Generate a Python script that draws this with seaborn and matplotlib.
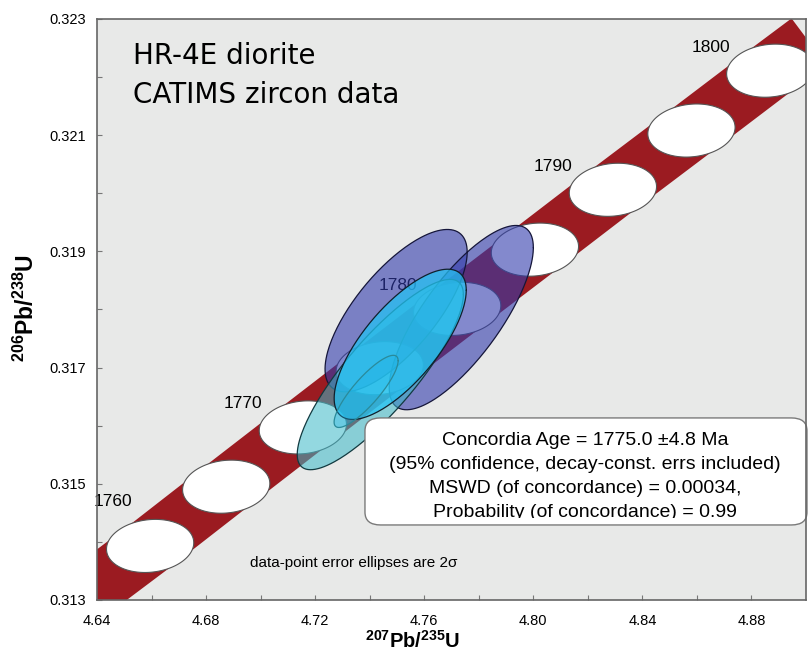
import numpy as np
import matplotlib
matplotlib.use("Agg")
import matplotlib.pyplot as plt
import seaborn as sns
from matplotlib.patches import FancyBboxPatch, Rectangle
from matplotlib.ticker import FixedLocator, FormatStrFormatter

sns.set_style("ticks")
plt.rcParams['font.family'] = ['Liberation Sans', 'DejaVu Sans']
plt.rcParams['text.color'] = 'black'
plt.rcParams['mathtext.fontset'] = 'custom'
plt.rcParams['mathtext.rm'] = 'Liberation Sans'
plt.rcParams['mathtext.bf'] = 'Liberation Sans:bold'

# concordia curve (207Pb/235U, 206Pb/238U) read at 5 Ma steps
conc_age = [1750, 1755, 1760, 1765, 1770, 1775, 1780, 1785, 1790, 1795, 1800, 1805, 1810]
conc_x = [4.6040, 4.6317, 4.6595, 4.6874, 4.7155, 4.7437, 4.7721, 4.8006,
          4.8292, 4.8580, 4.8869, 4.9160, 4.9452]
conc_y = [0.31196, 0.31295, 0.31393, 0.31495, 0.31597, 0.31699, 0.31801, 0.31903,
          0.32006, 0.32108, 0.32211, 0.32313, 0.32416]
marker_ages = [1760, 1765, 1770, 1775, 1780, 1785, 1790, 1795, 1800]
label_ages = [1760, 1770, 1780, 1790, 1800]

# age-marker ellipse size (decay constant errors)
mk_ex, mk_ey, mk_rho = 0.0160, 0.000457, 0.12

# data-point error ellipses (2 sigma): centre, half-extent x/y, error correlation
pt_x = [4.7497, 4.7736, 4.7439, 4.7512, 4.7387]
pt_y = [0.31798, 0.31786, 0.31688, 0.31740, 0.31659]
pt_ex = [0.02606, 0.02642, 0.03046, 0.02422, 0.01174]
pt_ey = [0.001397, 0.001586, 0.001638, 0.001293, 0.000621]
pt_rho = [0.72, 0.76, 0.84, 0.72, 0.85]

xticks = [4.64, 4.68, 4.72, 4.76, 4.80, 4.84, 4.88]
xminor = [4.66, 4.70, 4.74, 4.78, 4.82, 4.86]
yticks = [0.313, 0.315, 0.317, 0.319, 0.321, 0.323]
yminor = [0.314, 0.316, 0.318, 0.320, 0.322]

box_lines = ["Concordia Age = 1775.0 \u00b14.8 Ma",
             "(95% confidence, decay-const. errs included)",
             "MSWD (of concordance) = 0.00034,",
             "Probability (of concordance) = 0.99"]


def ellipse_xy(cx, cy, ex, ey, rho, n=240):
    t = np.linspace(0, 2 * np.pi, n)
    x = cx + ex * np.cos(t)
    y = cy + ey * (rho * np.cos(t) + np.sqrt(1 - rho ** 2) * np.sin(t))
    return x, y


fig = plt.figure(figsize=(8.08, 6.52), dpi=100)
ax = fig.add_axes([0.120, 0.0798, 0.8775, 0.8911])
ax.set_facecolor('#e8e9e8')

# concordia band
sns.lineplot(x=conc_x, y=conc_y, sort=False, estimator=None, ax=ax,
             color='#9b1b21', lw=42, solid_capstyle='butt', zorder=1)

# age markers
for age in marker_ages:
    i = conc_age.index(age)
    ex, ey = ellipse_xy(conc_x[i], conc_y[i], mk_ex, mk_ey, mk_rho)
    ax.fill(ex, ey, facecolor='white', edgecolor='#555555', lw=0.8, zorder=2)

label_off = {1760: (-27, 32)}
for age in label_ages:
    i = conc_age.index(age)
    ax.annotate(str(age), (conc_x[i], conc_y[i]), xytext=label_off.get(age, (-43, 17)),
                textcoords='offset points', ha='center', va='center',
                fontsize=12.5, color='black', zorder=2.5)

# data ellipses
fills = [('#313bac', 0.6, '#15163a', 3.0),
         ('#313bac', 0.6, '#15163a', 3.0),
         ('#3ab8c8', 0.55, '#123a40', 4.0),
         ('#22c4f4', 0.72, '#10202c', 4.1),
         ('#1eb4e6', 0.35, '#2a8a9a', 4.2)]
for i in range(len(pt_x)):
    fc, a, ec, z = fills[i]
    ex, ey = ellipse_xy(pt_x[i], pt_y[i], pt_ex[i], pt_ey[i], pt_rho[i])
    ax.fill(ex, ey, facecolor=fc, alpha=a, edgecolor='none', zorder=z)
    ax.plot(ex, ey, color=ec, lw=0.9, zorder=z + 0.01)

# results box
box = FancyBboxPatch((0.378, 0.1291), 0.6234, 0.1842, transform=ax.transAxes,
                     boxstyle='round,pad=0,rounding_size=0.022', facecolor='white',
                     edgecolor='#7a7a7a', lw=1.0, zorder=6, clip_on=False)
ax.add_patch(box)
clip = Rectangle((0.378, 0.1403), 0.63, 0.2, transform=ax.transAxes)
for line, yy in zip(box_lines, [0.2668, 0.2255, 0.1842, 0.1429]):
    t = ax.text(0.6883, yy, line, transform=ax.transAxes, ha='center', va='baseline',
                fontsize=14, color='black', zorder=7, clip_on=True)
    t.set_clip_path(clip)

ax.text(0.2158, 0.0573, "data-point error ellipses are 2\u03c3", transform=ax.transAxes,
        ha='left', va='baseline', fontsize=11, color='black', zorder=7)
ax.text(0.0508, 0.9225, "HR-4E diorite", transform=ax.transAxes, ha='left',
        va='baseline', fontsize=20, family='DejaVu Sans', color='black', zorder=7)
ax.text(0.0508, 0.8554, "CATIMS zircon data", transform=ax.transAxes, ha='left',
        va='baseline', fontsize=20, family='DejaVu Sans', color='black', zorder=7)

ax.set_xlim(4.64, 4.90)
ax.set_ylim(0.313, 0.323)
ax.xaxis.set_major_locator(FixedLocator(xticks))
ax.xaxis.set_minor_locator(FixedLocator(xminor))
ax.yaxis.set_major_locator(FixedLocator(yticks))
ax.yaxis.set_minor_locator(FixedLocator(yminor))
ax.xaxis.set_major_formatter(FormatStrFormatter('%.2f'))
ax.yaxis.set_major_formatter(FormatStrFormatter('%.3f'))
ax.tick_params(axis='both', which='both', direction='in', length=3.5, width=0.8,
               color='#777777', labelsize=10.5, labelcolor='black')
ax.tick_params(axis='x', which='major', pad=10)
ax.tick_params(axis='y', which='major', pad=8)
for s in ax.spines.values():
    s.set_color('#666666')
    s.set_linewidth(1.2)
    s.set_zorder(8)

ax.set_xlabel(r'$^{\mathbf{207}}$Pb/$^{\mathbf{235}}$U', fontsize=14.5,
              fontweight='bold', color='black')
ax.set_ylabel(r'$^{\mathbf{206}}$Pb/$^{\mathbf{238}}$U', fontsize=16.5,
              fontweight='bold', color='black')
ax.xaxis.set_label_coords(0.4457, -0.051)
ax.yaxis.set_label_coords(-0.082, 0.5017)

fig.savefig('out.png', dpi=100)
